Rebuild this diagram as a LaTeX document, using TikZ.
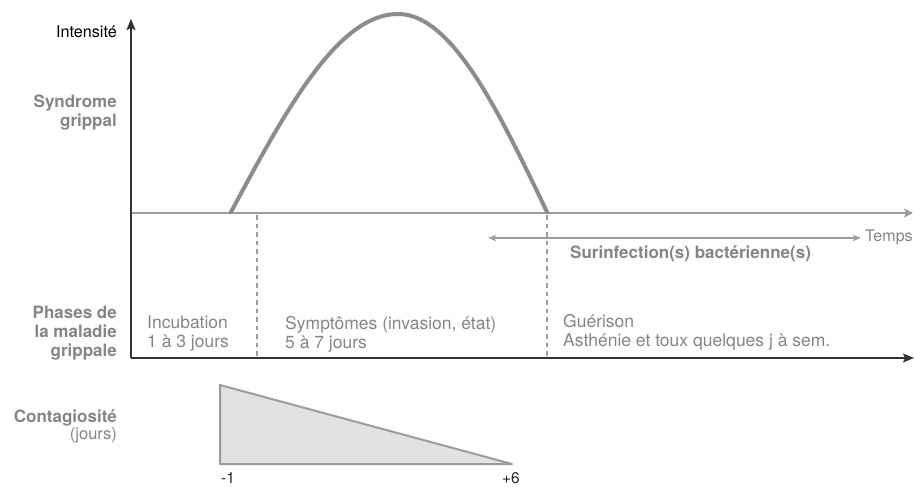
\documentclass[tikz,border=0pt]{standalone}
\usepackage{fontspec}
\setmainfont{TeX Gyre Heros}
\usetikzlibrary{arrows.meta}
\definecolor{txtgrey}{HTML}{858585}
\definecolor{curvegrey}{HTML}{8C8C8C}
\definecolor{linegrey}{HTML}{9C9C9C}
\definecolor{fillgrey}{HTML}{E2E2E2}

\begin{document}
\begin{tikzpicture}[
  x=1pt, y=-1pt,
  lbl/.style  ={font=\fontsize{17}{19}\selectfont\bfseries, text=txtgrey, align=right, anchor=east, inner sep=0pt},
  phase/.style={font=\fontsize{17.5}{19}\selectfont, text=txtgrey, align=left, anchor=west, inner sep=0pt},
  tick/.style ={font=\fontsize{15.5}{17}\selectfont, text=black!85, inner sep=0pt},
  axis/.style ={-{Stealth[length=11pt, width=9pt, inset=2pt]}, line width=1.6pt, black!80},
  gaxis/.style={-{Stealth[length=9pt, width=9pt, inset=2pt]}, line width=2pt, linegrey},
  span/.style ={{Stealth[length=8pt, width=6pt, inset=1.5pt]}-{Stealth[length=8pt, width=6pt, inset=1.5pt]}, line width=2pt, linegrey},
  sep/.style  ={dashed, dash pattern=on 4.5pt off 4pt, line width=1.3pt, linegrey},
]
\useasboundingbox (0,0) rectangle (914,487);

% ======================= axes =======================
\coordinate (O)    at (131,358);
\coordinate (Ytop) at (131,19);
\coordinate (Xend) at (914,358);
\coordinate (G0)   at (131,213);
\coordinate (Gend) at (913,213);

\draw[gaxis] (G0) -- (Gend);
\draw[axis] (O) -- (Xend);
\draw[axis] (O) -- (Ytop);

\node[anchor=east, inner sep=0pt, font=\fontsize{16.2}{18}\selectfont] (int) at (117,32) {Intensité};

% ======================= syndrome curve =======================
\draw[curvegrey, line width=4pt, line cap=round]
  plot[domain=0:1, samples=40] ({231+167*\x}, {212-198*sin(90*\x)})
  -- plot[domain=0:1, samples=40] ({398+149*\x}, {212-198*cos(90*\x)});

% phase separators
\coordinate (s1t) at (257,215);
\coordinate (s1b) at (257,356);
\coordinate (s2t) at (547,215);
\coordinate (s2b) at (547,356);
\draw[sep] (s1t) -- (s1b);
\draw[sep] (s2t) -- (s2b);

% bacterial superinfection window
\coordinate (bL) at (488,238);
\coordinate (bR) at (861,238);
\draw[span] (bL) -- (bR);
\node[anchor=west, inner sep=0pt, text=txtgrey, font=\fontsize{16}{18}\selectfont] (temps) at (865,237) {Temps};
\node[anchor=west, inner sep=0pt, text=txtgrey, font=\fontsize{17}{19}\selectfont\bfseries] (surinf) at (570,254) {Surinfection(s) bactérienne(s)};

% ======================= left labels =======================
\node[lbl] (synd)   at (117,113) {Syndrome\\grippal};
\node[lbl] (phases) at (117,333) {Phases de\\la maladie\\grippale};
\node[lbl] (contag) at (117,418) {Contagiosité};
\node[anchor=east, inner sep=0pt, text=txtgrey, font=\fontsize{16.5}{18}\selectfont] (jours) at (117,435) {(jours)};

% ======================= phases =======================
\node[phase] (incub) at (147,334) {Incubation\\1 à 3 jours};
\node[phase] (sympt) at (285,334) {Symptômes (invasion, état)\\5 à 7 jours};
\node[phase] (gueri) at (563,332) {Guérison\\Asthénie et toux quelques j à sem.};

% ======================= contagiousness =======================
\coordinate (cTop) at (220,385);
\coordinate (cBot) at (220,464);
\coordinate (cEnd) at (512,464);
\draw[linegrey, fill=fillgrey, line width=2pt, line join=round] (cTop) -- (cEnd) -- (cBot) -- cycle;
\node[tick] (m1) at (228,478) {-1};
\node[tick] (p6) at (511,478) {+6};
\end{tikzpicture}
\end{document}
